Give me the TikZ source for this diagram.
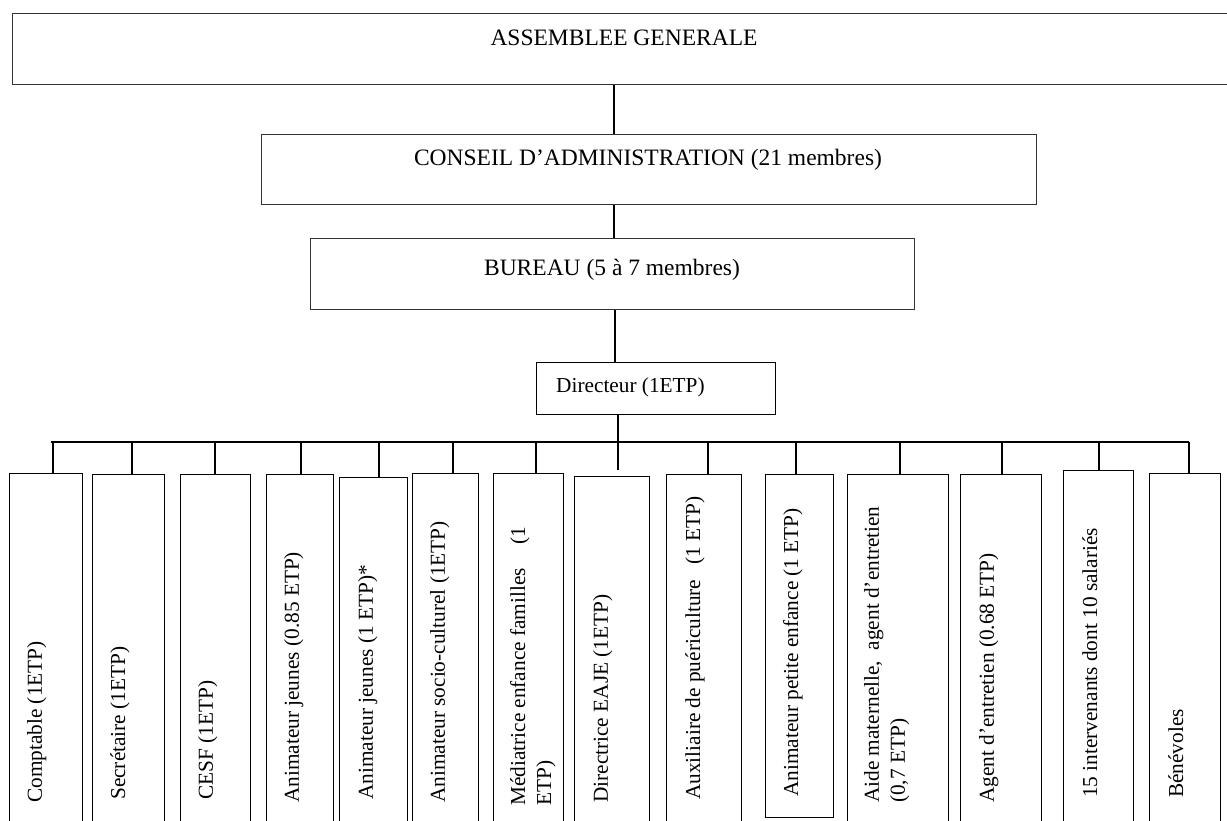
\documentclass[tikz,border=0pt]{standalone}
\usepackage{fontspec}
\setmainfont{Liberation Serif}
\begin{document}
\begin{tikzpicture}[x=1pt,y=1pt,
  topbox/.style={draw=black!80, line width=1.3pt, inner sep=0, anchor=north west},
  stafbox/.style={draw=black, line width=1pt, inner sep=0, anchor=north west},
  toplink/.style={line width=1.3pt},
  link/.style={line width=1.8pt},
  toptext/.style={font=\fontsize{23.5}{28}\selectfont, inner sep=0, anchor=base},
  vtext/.style={rotate=90, anchor=north west, inner sep=0, align=left,
                font=\fontsize{21.3}{26}\selectfont}
]
\useasboundingbox (0,0) rectangle (1227,-820);

% upper hierarchy
\node[topbox, minimum width=1224, minimum height=71] (ag) at (12,-13) {};
\node[toptext] (agt) at (624,-45) {ASSEMBLEE GENERALE};

\node[topbox, minimum width=775, minimum height=70] (ca) at (261,-134) {};
\node[toptext] (cat) at (648,-165) {CONSEIL D’ADMINISTRATION (21 membres)};

\node[topbox, minimum width=604, minimum height=71] (bu) at (310,-238) {};
\node[toptext] (but) at (612,-275) {BUREAU (5 à 7 membres)};

\node[topbox, line width=1pt, draw=black, minimum width=239, minimum height=52] (dir) at (536,-362) {};
\node[font=\fontsize{21.3}{26}\selectfont, inner sep=0, anchor=base west] (dirt) at (556,-392) {Directeur (1ETP)};

% staff boxes
\node[stafbox, minimum width=73,  minimum height=360] (b1)  at (9,-473)    {};
\node[stafbox, minimum width=72,  minimum height=360] (b2)  at (92,-474)   {};
\node[stafbox, minimum width=70,  minimum height=360] (b3)  at (180,-474)  {};
\node[stafbox, minimum width=67,  minimum height=360] (b4)  at (266,-474)  {};
\node[stafbox, minimum width=68,  minimum height=360] (b5)  at (339,-477)  {};
\node[stafbox, minimum width=66,  minimum height=360] (b6)  at (412,-473)  {};
\node[stafbox, minimum width=70,  minimum height=360] (b7)  at (493,-473)  {};
\node[stafbox, minimum width=75,  minimum height=360] (b8)  at (574,-476)  {};
\node[stafbox, minimum width=75,  minimum height=360] (b9)  at (666,-474)  {};
\node[stafbox, minimum width=68,  minimum height=343] (b10) at (765,-474)  {};
\node[stafbox, minimum width=101, minimum height=360] (b11) at (847,-474)  {};
\node[stafbox, minimum width=81,  minimum height=360] (b12) at (960,-474)  {};
\node[stafbox, minimum width=70,  minimum height=360] (b13) at (1063,-470) {};
\node[stafbox, minimum width=71,  minimum height=360] (b14) at (1149,-473) {};

\node[vtext] (l1)  at (27,-803)   {Comptable (1ETP)};
\node[vtext] (l2)  at (110,-800)  {Secrétaire (1ETP)};
\node[vtext] (l3)  at (198,-800)  {CESF (1ETP)};
\node[vtext] (l4)  at (284,-803)  {Animateur jeunes (0.85 ETP)};
\node[vtext] (l5)  at (358,-800)  {Animateur jeunes (1 ETP)*};
\node[vtext] (l6)  at (430,-803)  {Animateur socio-culturel (1ETP)};
\node[vtext] (l7)  at (510,-806)  {Médiatrice enfance familles\hspace{1.1em}(1\\ETP)};
\node[vtext] (l8)  at (593,-803)  {Directrice EAJE (1ETP)};
\node[vtext] (l9)  at (685,-800)  {Auxiliaire de puériculture\hspace{0.7em}(1 ETP)};
\node[vtext] (l10) at (783,-797)  {Animateur petite enfance (1 ETP)};
\node[vtext] (l11) at (864,-803)  {Aide maternelle,\ \ agent d’entretien\\(0,7 ETP)};
\node[vtext] (l12) at (979,-803)  {Agent d’entretien (0.68 ETP)};
\node[vtext] (l13) at (1082,-798) {15 intervenants dont 10 salariés};
\node[vtext] (l14) at (1168,-798) {Bénévoles};

% connectors
\coordinate (t1) at (614,0);
\coordinate (t2) at (615,0);
\coordinate (t3) at (618,0);
\draw[toplink] (ag.south -| t1) -- (ca.north -| t1);
\draw[toplink] (ca.south -| t1) -- (bu.north -| t1);
\draw[toplink] (bu.south -| t2) -- (dir.north -| t2);
\draw[link] (dir.south -| t3) -- ([yshift=6pt]b8.north -| t3);

\coordinate (busL) at (51,-442);
\coordinate (busR) at (1189,-442);
\draw[link] (busL) -- (busR);
\foreach \i/\x in {1/53,2/132,3/215,4/301,5/379,6/453,7/536,9/708,10/796,11/900,12/1002,13/1099,14/1189}{
  \coordinate (k\i) at (\x,-442);
  \draw[link] (k\i) -- (k\i |- b\i.north);
}
\end{tikzpicture}
\end{document}
